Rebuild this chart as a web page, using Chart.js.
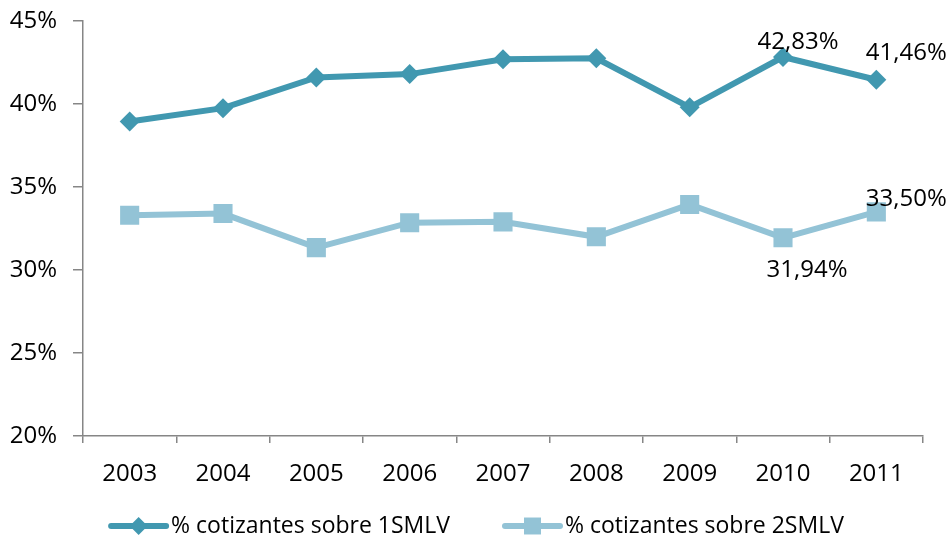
<!DOCTYPE html>
<html>
<head>
<meta charset="utf-8">
<script src="https://cdn.jsdelivr.net/npm/chart.js@4/dist/chart.umd.min.js"></script>
<style>
  html, body { margin: 0; padding: 0; background: #fff; }
  #wrap { width: 949px; height: 539px; position: relative; }
</style>
</head>
<body>
<div id="wrap"><canvas id="c" width="949" height="539"></canvas></div>
<script>
// Años
const years = ['2003', '2004', '2005', '2006', '2007', '2008', '2009', '2010', '2011'];

// % cotizantes sobre 1SMLV
const sobre1SMLV = [38.95, 39.75, 41.6, 41.8, 42.7, 42.75, 39.8, 42.83, 41.46];

// % cotizantes sobre 2SMLV
const sobre2SMLV = [33.3, 33.4, 31.35, 32.85, 32.9, 32.0, 33.95, 31.94, 33.50];

// Eje vertical
const yTicks = [20, 25, 30, 35, 40, 45];

const seriesNames = ['% cotizantes sobre 1SMLV', '% cotizantes sobre 2SMLV'];

const FONT = '"Open Sans", "Noto Sans", sans-serif';
const FONT_SIZE = 24;
const LEGEND_FONT_SIZE = 23;
const AXIS_GREY = '#868686';

const fmtPct = v => v.toFixed(2).replace('.', ',') + '%';

// Etiquetas de valor sobre puntos concretos: [serie, índice, dx, dy]
const pointLabels = [
  [0, 7, 15, -15],
  [0, 8, 30, -27],
  [1, 8, 30, -13],
  [1, 7, 24, 32]
];

const valueLabelsPlugin = {
  id: 'valueLabels',
  afterDatasetsDraw(chart) {
    const ctx = chart.ctx;
    ctx.save();
    ctx.font = FONT_SIZE + 'px ' + FONT;
    ctx.fillStyle = '#000';
    ctx.textAlign = 'center';
    ctx.textBaseline = 'middle';
    pointLabels.forEach(([ds, i, dx, dy]) => {
      const pt = chart.getDatasetMeta(ds).data[i];
      const v = chart.data.datasets[ds].data[i];
      ctx.fillText(fmtPct(v), pt.x + dx, pt.y + dy);
    });
    ctx.restore();
  }
};

// Leyenda inferior: línea con marcador y texto
const bottomLegendPlugin = {
  id: 'bottomLegend',
  afterDraw(chart) {
    const ctx = chart.ctx;
    ctx.save();
    ctx.font = LEGEND_FONT_SIZE + 'px ' + FONT;
    const lineLen = 55, textGap = 5, itemGap = 55;
    const items = chart.data.datasets.map(d => ({
      ds: d, w: lineLen + textGap + ctx.measureText(d.label).width
    }));
    const total = items.reduce((s, it) => s + it.w, 0) + itemGap * (items.length - 1);
    let x = chart.width / 2 - total / 2 + 3;
    const y = 526;
    items.forEach(it => {
      const d = it.ds;
      ctx.strokeStyle = d.borderColor;
      ctx.lineWidth = 6;
      ctx.lineCap = 'round';
      ctx.beginPath();
      ctx.moveTo(x, y);
      ctx.lineTo(x + lineLen, y);
      ctx.stroke();
      ctx.fillStyle = d.pointBackgroundColor;
      Chart.helpers.drawPoint(ctx, {
        pointStyle: d.pointStyle,
        radius: d.legendRadius,
        borderWidth: 0
      }, x + lineLen / 2, y);
      ctx.fillStyle = '#000';
      ctx.textAlign = 'left';
      ctx.textBaseline = 'middle';
      ctx.fillText(d.label, x + lineLen + textGap, y);
      x += it.w + itemGap;
    });
    ctx.restore();
  }
};

Chart.defaults.font.family = FONT;
Chart.defaults.font.size = FONT_SIZE;
Chart.defaults.color = '#000';

new Chart(document.getElementById('c'), {
  type: 'line',
  data: {
    labels: years,
    datasets: [
      {
        label: seriesNames[0],
        data: sobre1SMLV,
        borderColor: '#4198B0',
        backgroundColor: '#4198B0',
        pointBackgroundColor: '#4198B0',
        pointBorderColor: '#4198B0',
        borderWidth: 6,
        pointStyle: 'rectRot',
        pointRadius: 10,
        legendRadius: 9,
        pointBorderWidth: 0,
        tension: 0
      },
      {
        label: seriesNames[1],
        data: sobre2SMLV,
        borderColor: '#93C3D6',
        backgroundColor: '#93C3D6',
        pointBackgroundColor: '#93C3D6',
        pointBorderColor: '#93C3D6',
        borderWidth: 6,
        pointStyle: 'rect',
        pointRadius: 13.5,
        legendRadius: 12,
        pointBorderWidth: 0,
        tension: 0
      }
    ]
  },
  options: {
    responsive: false,
    animation: false,
    layout: { padding: { top: 21, right: 26, bottom: 0, left: 0 } },
    plugins: {
      legend: { display: false },
      tooltip: { enabled: false }
    },
    scales: {
      x: {
        offset: true,
        grid: {
          offset: true,
          drawOnChartArea: false,
          drawTicks: true,
          tickLength: 7,
          color: AXIS_GREY,
          lineWidth: 1.5
        },
        border: { color: AXIS_GREY, width: 1.5 },
        ticks: { padding: 17, maxRotation: 0, font: { size: FONT_SIZE } },
        afterFit(scale) {
          scale.height = 103;
          scale.paddingLeft = 0;
          scale.paddingRight = 0;
        }
      },
      y: {
        min: 20,
        max: 45,
        afterBuildTicks(scale) { scale.ticks = yTicks.map(v => ({ value: v })); },
        grid: {
          drawOnChartArea: false,
          drawTicks: true,
          tickLength: 10,
          color: AXIS_GREY,
          lineWidth: 1.5
        },
        border: { color: AXIS_GREY, width: 1.5 },
        ticks: {
          padding: 16,
          font: { size: FONT_SIZE },
          callback: v => v + '%'
        },
        afterFit(scale) {
          scale.width = 83;
          scale.paddingTop = 0;
          scale.paddingBottom = 0;
        }
      }
    }
  },
  plugins: [valueLabelsPlugin, bottomLegendPlugin]
});
</script>
</body>
</html>
